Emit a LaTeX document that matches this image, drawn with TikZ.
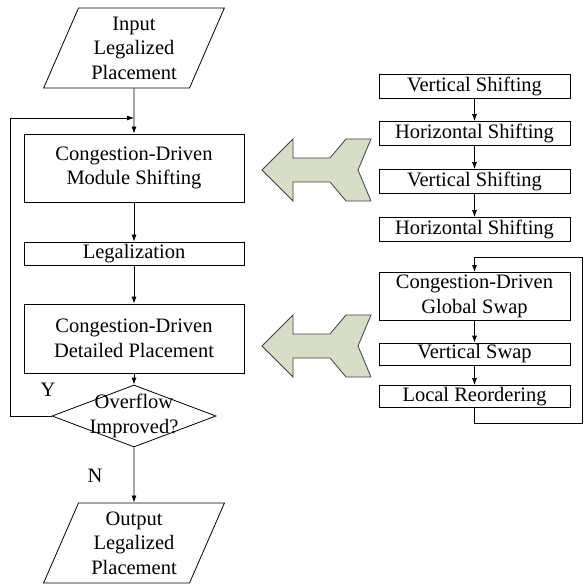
\documentclass[tikz,border=0pt]{standalone}
\usepackage{fontspec}
\setmainfont{Liberation Serif}
\newfontfamily\flowfont{Liberation Serif}
\usepackage{tikz}
\usetikzlibrary{shapes.geometric, arrows.meta, calc}
\definecolor{sage}{RGB}{216,221,199}

\begin{document}
\begin{tikzpicture}[x=1pt, y=-1pt, line width=0.8pt,
    font=\flowfont\fontsize{20.5}{24.5}\selectfont,
    box/.style={draw, inner sep=0pt, align=center, minimum width=220pt},
    sbox/.style={draw, inner sep=0pt, align=center, minimum width=191pt, minimum height=24pt},
    io/.style={trapezium, trapezium left angle=67, trapezium right angle=113,
        trapezium stretches=true, draw, minimum width=181pt, minimum height=80pt,
        inner sep=1pt, align=center},
    arr/.style={-{Latex[length=7pt,width=5pt]}},
    fatarrow/.style={draw=black!75, fill=sage, line join=miter}]
\useasboundingbox (0,0) rectangle (583,585);

% main flow
\node[io] (in) at (134,48) {Input\\Legalized\\Placement};
\node[box, minimum height=68pt] (shift) at (134,168) {Congestion-Driven\\Module Shifting};
\node[box, minimum height=23pt] (legal) at (134,253.5) {Legalization};
\node[box, minimum height=69pt] (detail) at (134,338.5) {Congestion-Driven\\Detailed Placement};
\node[diamond, draw, minimum width=164pt, minimum height=62pt, inner sep=0pt] (dec) at (134,416) {};
\node[align=center] (dectext) at (dec) {Overflow\\Improved?};
\node (ylab) at (48,390) {Y};
\node (nlab) at (95,476) {N};
\node[io] (out) at (134,543) {Output\\Legalized\\Placement};

% shifting steps
\node[sbox] (vs1) at (474.5,86) {Vertical Shifting};
\node[sbox] (hs1) at (474.5,133.5) {Horizontal Shifting};
\node[sbox] (vs2) at (474.5,181.5) {Vertical Shifting};
\node[sbox] (hs2) at (474.5,229.5) {Horizontal Shifting};

% detailed placement steps
\node[sbox, minimum height=48pt] (gs) at (474.5,296.5) {Congestion-Driven\\Global Swap};
\node[sbox, minimum height=22pt] (vsw) at (474.5,354) {Vertical Swap};
\node[sbox, minimum height=22pt] (lr) at (474.5,396.5) {Local Reordering};

\foreach \a/\b in {in/shift, shift/legal, legal/detail, detail/dec, dec/out,
                   vs1/hs1, hs1/vs2, vs2/hs2, gs/vsw, vsw/lr}
    \draw[arr] (\a.south) -- (\b.north);

% loops
\draw[arr] (dec.west) -| (10,118) -- (in.south |- 0,118);
\draw[arr] (lr.south) |- (582,423) -- (582,257) -| (gs.north);

% big arrows
\foreach \cy in {170,346}
    \draw[fatarrow, shift={(0,\cy)}] (262,0) -- (293,-31) -- (293,-12) -- (330,-12)
        -- (346,-31) -- (371,-31) -- (358,0) -- (371,31) -- (346,31) -- (330,12)
        -- (293,12) -- (293,31) -- cycle;
\end{tikzpicture}
\end{document}
